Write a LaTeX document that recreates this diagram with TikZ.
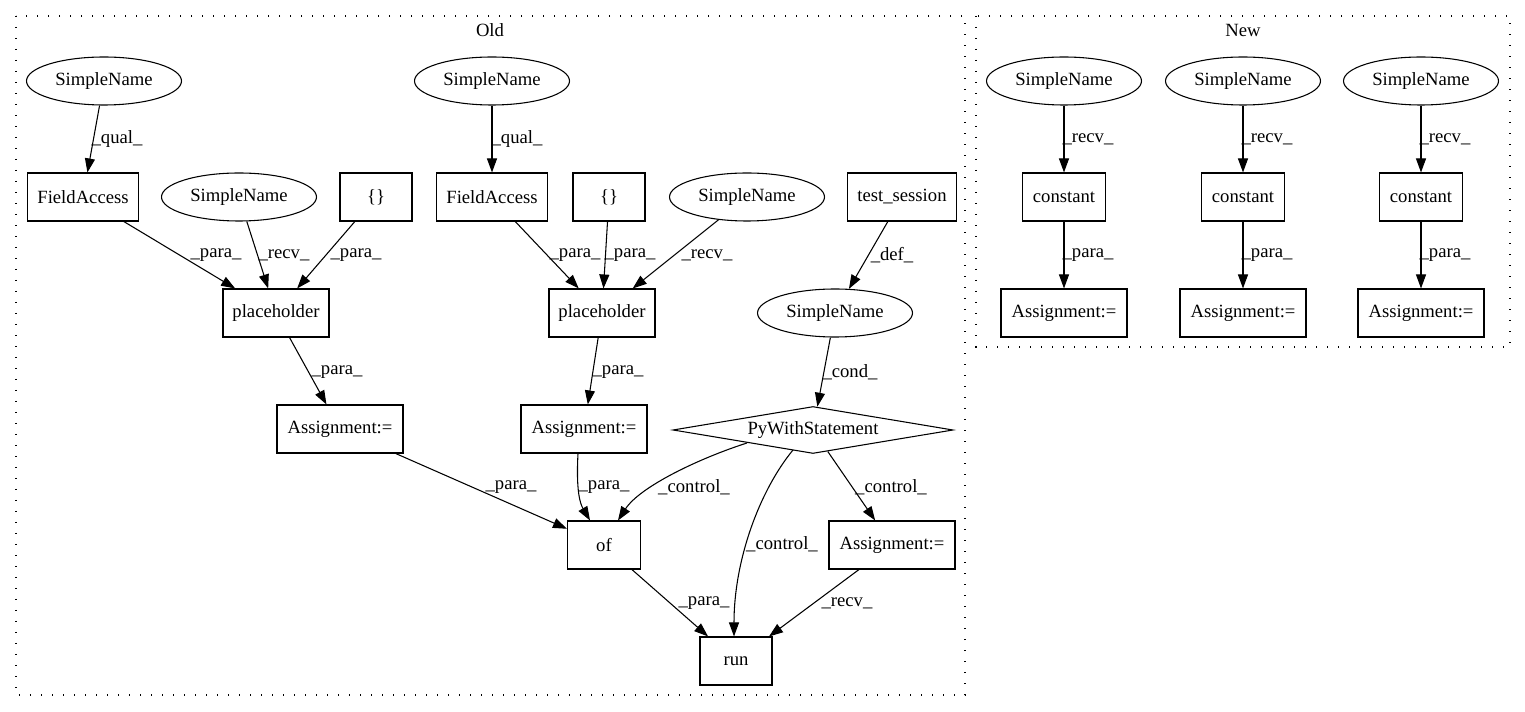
\documentclass[tikz,border=0pt]{standalone}
\usepackage{fontspec}
\setmainfont{Liberation Serif}
\usetikzlibrary{shapes.geometric,arrows.meta}
\begin{document}
\begin{tikzpicture}[x=0.75pt,y=-0.75pt,
  font=\fontsize{14}{16}\selectfont,
  box/.style={draw, rectangle, line width=0.8pt, minimum height=36pt, inner sep=0pt},
  ell/.style={draw, ellipse, line width=0.8pt, minimum width=116.25pt, minimum height=36pt, inner sep=0pt},
  dia/.style={draw, diamond, line width=0.8pt, shape aspect=6, minimum width=210pt, minimum height=35.25pt, inner sep=0pt},
  lbl/.style={inner sep=0pt},
  conn/.style={line width=0.8pt, -{Triangle[length=10.5pt,width=7.5pt]}},
  cluster/.style={line width=1pt, dash pattern=on 1pt off 7.25pt}
]
\useasboundingbox (0,0) rectangle (1525,712);

% clusters
\draw[cluster] (16,16) rectangle (965,695);
\node[lbl] (oldlbl) at (490,30) {Old};
\draw[cluster] (976,16) rectangle (1510,347);
\node[lbl] (newlbl) at (1243,30) {New};

% Old nodes
\node[ell] (sn1) at (104,81) {SimpleName};
\node[box, minimum width=83.25pt] (fa1) at (83,197) {FieldAccess};
\node[ell] (sn2) at (239,197) {SimpleName};
\node[box, minimum width=54pt] (br1) at (376,197) {\{\}};
\node[box, minimum width=79.5pt] (ph1) at (276,313) {placeholder};
\node[box, minimum width=94.5pt] (as1) at (340,429) {Assignment:=};
\node[ell] (sn3) at (492,81) {SimpleName};
\node[box, minimum width=83.25pt] (fa2) at (492,197) {FieldAccess};
\node[box, minimum width=54pt] (br2) at (609,197) {\{\}};
\node[ell] (sn4) at (747,197) {SimpleName};
\node[box, minimum width=81.75pt] (ts) at (902,197) {test\_session};
\node[box, minimum width=79.5pt] (ph2) at (602,313) {placeholder};
\node[ell] (sn5) at (835,313) {SimpleName};
\node[box, minimum width=94.5pt] (as2) at (584,429) {Assignment:=};
\node[dia] (pw) at (813,430) {PyWithStatement};
\node[box, minimum width=54.75pt] (of) at (604,545) {of};
\node[box, minimum width=94.5pt] (as3) at (892,545) {Assignment:=};
\node[box, minimum width=54pt] (run) at (736,661) {run};

% Old edges
\draw[conn] (sn1) -- (fa1);
\node[lbl] (l1) at (117,139) {\_qual\_};
\draw[conn] (fa1) -- (ph1);
\node[lbl] (l2) at (216,255) {\_para\_};
\draw[conn] (sn2) -- (ph1);
\node[lbl] (l3) at (284,255) {\_recv\_};
\draw[conn] (br1) -- (ph1);
\node[lbl] (l4) at (356,255) {\_para\_};
\draw[conn] (ph1) -- (as1);
\node[lbl] (l5) at (337,372) {\_para\_};
\draw[conn] (sn3) -- (fa2);
\node[lbl] (l6) at (517,139) {\_qual\_};
\draw[conn] (fa2) -- (ph2);
\node[lbl] (l7) at (575,255) {\_para\_};
\draw[conn] (br2) -- (ph2);
\node[lbl] (l8) at (630,255) {\_para\_};
\draw[conn] (sn4) -- (ph2);
\node[lbl] (l9) at (707,255) {\_recv\_};
\draw[conn] (ts) -- (sn5);
\node[lbl] (l10) at (892,255) {\_def\_};
\draw[conn] (ph2) -- (as2);
\node[lbl] (l11) at (618,372) {\_para\_};
\draw[conn] (sn5) -- (pw);
\node[lbl] (l12) at (850,372) {\_cond\_};
\draw[conn] (as1) -- (of);
\node[lbl] (l13) at (511,487) {\_para\_};
\draw[conn] ([xshift=-4.5pt]as2.south) .. controls +(-2,37) and +(-10,-17) .. ([xshift=-10.5pt]of.north);
\node[lbl] (l14) at (604,487) {\_para\_};
\draw[conn] ([shift={(-66,13)}]pw.center) .. controls +(-47,15) and +(22,-34) .. ([xshift=10.5pt]of.north);
\node[lbl] (l15) at (694,487) {\_control\_};
\draw[conn] ([shift={(-20,20)}]pw.center) .. controls +(-33,40) and +(0,-77) .. ([xshift=-1.5pt]run.north);
\node[lbl] (l16) at (782,544) {\_control\_};
\draw[conn] (pw) -- (as3);
\node[lbl] (l17) at (891,487) {\_control\_};
\draw[conn] (of) -- (run);
\node[lbl] (l18) at (704,603) {\_para\_};
\draw[conn] (as3) -- (run);
\node[lbl] (l19) at (847,603) {\_recv\_};

% New nodes
\node[ell] (nsn1) at (1064,81) {SimpleName};
\node[box, minimum width=62.25pt] (nc1) at (1064,197) {constant};
\node[box, minimum width=94.5pt] (na1) at (1064,313) {Assignment:=};
\node[ell] (nsn2) at (1243,81) {SimpleName};
\node[box, minimum width=62.25pt] (nc2) at (1243,197) {constant};
\node[box, minimum width=94.5pt] (na2) at (1243,313) {Assignment:=};
\node[ell] (nsn3) at (1421,81) {SimpleName};
\node[box, minimum width=62.25pt] (nc3) at (1421,197) {constant};
\node[box, minimum width=94.5pt] (na3) at (1421,313) {Assignment:=};

% New edges
\draw[conn] (nsn1) -- (nc1);
\node[lbl] (n1) at (1088,139) {\_recv\_};
\draw[conn] (nc1) -- (na1);
\node[lbl] (n2) at (1088,255) {\_para\_};
\draw[conn] (nsn2) -- (nc2);
\node[lbl] (n3) at (1267,139) {\_recv\_};
\draw[conn] (nc2) -- (na2);
\node[lbl] (n4) at (1267,255) {\_para\_};
\draw[conn] (nsn3) -- (nc3);
\node[lbl] (n5) at (1445,139) {\_recv\_};
\draw[conn] (nc3) -- (na3);
\node[lbl] (n6) at (1445,255) {\_para\_};
\end{tikzpicture}
\end{document}
